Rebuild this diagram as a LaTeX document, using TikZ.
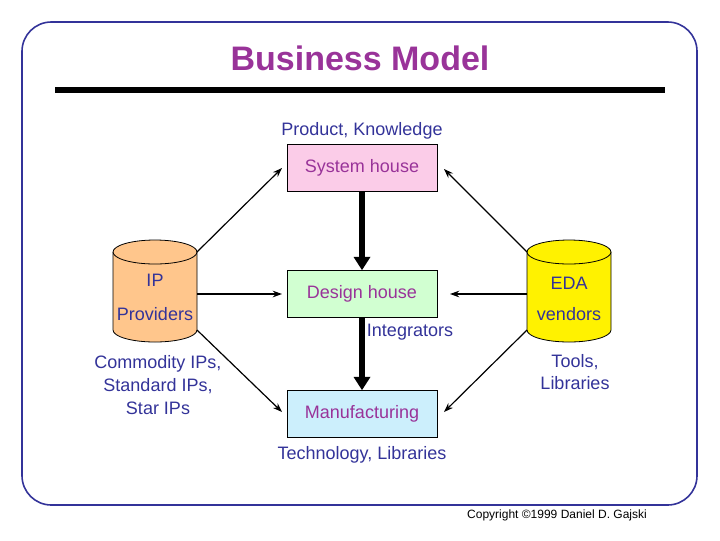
\documentclass[tikz,border=0pt]{standalone}
\usepackage{fontspec}
\setmainfont{Liberation Sans}
\usetikzlibrary{arrows.meta}
\definecolor{navy}{HTML}{333399}
\definecolor{purp}{HTML}{993399}
\begin{document}
\begin{tikzpicture}[x=0.75pt,y=-0.75pt,
 box/.style={draw,minimum width=150*0.75pt,minimum height=47*0.75pt,inner sep=0pt,text=purp,font=\fontsize{13.5}{16}\selectfont},
 lab/.style={text=navy,font=\fontsize{13.5}{17}\selectfont,align=center},
 thin/.style={-{Stealth[length=7pt,width=5pt]},line width=0.9pt},
 thick/.style={-{Triangle[length=10pt,width=12pt]},line width=4pt}]
\useasboundingbox (0,0) rectangle (720,540);
\draw[line width=1.2pt,draw=navy,rounded corners=22pt] (22,22) rectangle (697,505);
\node[text=purp,font=\bfseries\fontsize{25.5}{28}\selectfont] (title) at (360,58) {Business Model};
\draw[line width=5pt] (55,90) -- (665,90);
\node[lab] (pk) at (362,131) {Product, Knowledge};
\node[box,fill=magenta!20] (sys) at (362,168) {System house};
\node[box,fill=green!18] (des) at (362,294) {\raisebox{-5pt}{Design house}};
\node[box,fill=cyan!20] (man) at (362,414) {Manufacturing};
\node[lab] (integ) at (410,332) {Integrators};
\node[lab] (tech) at (362,455) {Technology, Libraries};
% cylinders
\foreach \cx/\col/\nm in {155/orange!45/ipc,569/yellow/edac}{
 \fill[\col] (\cx-42,252) -- (\cx-42,330) arc[start angle=180,end angle=360,x radius=42,y radius=-12] -- (\cx+42,252) -- cycle;
 \draw[line width=0.6pt] (\cx-42,252) -- (\cx-42,330) arc[start angle=180,end angle=360,x radius=42,y radius=-12] -- (\cx+42,252);
 \draw[line width=0.6pt,fill=\col] (\cx,252) ellipse[x radius=42,y radius=12];
 \coordinate (\nm) at (\cx,290);
}
\node[lab] (ip) at (155,280) {IP};
\node[lab] (prov) at (155,314) {Providers};
\node[lab] (eda) at (569,283) {EDA};
\node[lab] (vend) at (569,314) {vendors};
\node[lab] (comm) at (158,385) {Commodity IPs,\\Standard IPs,\\Star IPs};
\node[lab] (tools) at (575,372) {Tools,\\Libraries};
\node[font=\fontsize{9}{11}\selectfont] (copy) at (557,515) {Copyright \textcopyright1999 Daniel D. Gajski};
% arrows
\coordinate (a1) at (197,252); \coordinate (a2) at (197,294); \coordinate (a3) at (197,330);
\coordinate (b1) at (527,252); \coordinate (b2) at (527,294); \coordinate (b3) at (527,330);
\draw[thin] (a1) -- (282,168);
\draw[thin] (a2) -- (282,294);
\draw[thin] (a3) -- (282,412);
\draw[thin] (b1) -- (444,169);
\draw[thin] (b2) -- (450,294);
\draw[thin] (b3) -- (444,412);
\draw[thick] (sys.south) -- (des.north);
\draw[thick] (des.south) -- (man.north);
\end{tikzpicture}
\end{document}
